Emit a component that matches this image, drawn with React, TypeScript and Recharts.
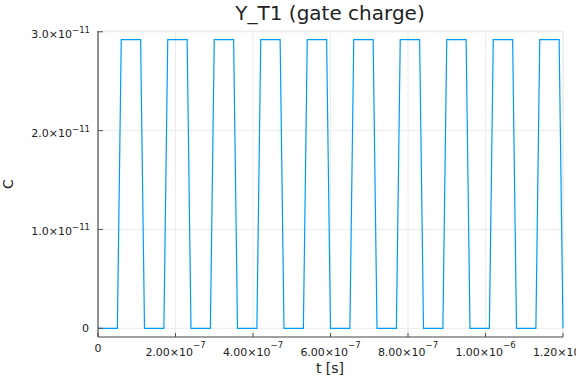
import { CartesianGrid, Line, LineChart, XAxis, YAxis } from "recharts";

const TITLE = "Y_T1 (gate charge)";
const X_LABEL = "t [s]";
const Y_LABEL = "C";

// breakpoints of the gate charge waveform, time in ns
const T_NS = [
  0, 50, 60, 110, 120, 170, 180, 230, 240, 290, 300, 350, 360, 410, 420, 470, 480,
  530, 540, 590, 600, 650, 660, 710, 720, 770, 780, 830, 840, 890, 900, 950, 960,
  1010, 1020, 1070, 1080, 1130, 1140, 1190, 1200,
];
const H = 2.92e-11;
const CHARGE = [
  0, 0, H, H, 0, 0, H, H, 0, 0, H, H, 0, 0, H, H, 0,
  0, H, H, 0, 0, H, H, 0, 0, H, H, 0, 0, H, H, 0,
  0, H, H, 0, 0, H, H, 0,
];

const X_TICKS = [0, 2e-7, 4e-7, 6e-7, 8e-7, 1e-6, 1.2e-6];
const X_TICK_LABELS = [
  ["0", ""],
  ["2.00×10", "−7"],
  ["4.00×10", "−7"],
  ["6.00×10", "−7"],
  ["8.00×10", "−7"],
  ["1.00×10", "−6"],
  ["1.20×10", "−6"],
];
const Y_TICKS = [0, 1e-11, 2e-11, 3e-11];
const Y_TICK_LABELS = [
  ["0", ""],
  ["1.0×10", "−11"],
  ["2.0×10", "−11"],
  ["3.0×10", "−11"],
];

const data = T_NS.map((t, i) => ({ t: t * 1e-9, q: CHARGE[i] }));

const FONT = "DejaVu Sans, sans-serif";
const AXIS = "#4d4d4d";
const TEXT = "#222";

function XTick({ x, y, index }: any) {
  const [main, sup] = X_TICK_LABELS[index] ?? ["", ""];
  return (
    <g>
      <line x1={x} y1={y} x2={x} y2={y - 4} stroke={AXIS} strokeWidth={1} />
      {sup ? (
        <text x={x} y={y + 19} textAnchor="middle" fontSize={11} fill={TEXT} fontFamily={FONT}>
          {main}
          <tspan dy={-8} fontSize={8.5}>
            {sup}
          </tspan>
        </text>
      ) : (
        <text x={x} y={y + 15} textAnchor="middle" fontSize={11} fill={TEXT} fontFamily={FONT}>
          {main}
        </text>
      )}
    </g>
  );
}

function YTick({ x, y, index }: any) {
  const [main, sup] = Y_TICK_LABELS[index] ?? ["", ""];
  return (
    <g>
      <line x1={x} y1={y} x2={x + 5} y2={y} stroke={AXIS} strokeWidth={1} />
      {sup ? (
        <text x={x - 8} y={y + 6} textAnchor="end" fontSize={11} fill={TEXT} fontFamily={FONT}>
          {main}
          <tspan dy={-5} fontSize={8.5}>
            {sup}
          </tspan>
        </text>
      ) : (
        <text x={x - 9} y={y + 4} textAnchor="end" fontSize={11} fill={TEXT} fontFamily={FONT}>
          {main}
        </text>
      )}
    </g>
  );
}

export default function App() {
  return (
    <div style={{ position: "absolute", left: 0, top: 0, width: 576, height: 384, background: "#fff" }}>
      <LineChart width={576} height={384} data={data} margin={{ top: 31, right: 13, bottom: 7, left: 8 }}>
        <CartesianGrid stroke="#ececec" strokeWidth={1} />
        <XAxis
          dataKey="t"
          type="number"
          domain={[0, 1.2e-6]}
          ticks={X_TICKS}
          height={40}
          tickSize={0}
          tickMargin={0}
          tick={<XTick />}
          axisLine={{ stroke: AXIS, strokeWidth: 1.2 }}
          tickLine={false}
          interval={0}
        />
        <YAxis
          type="number"
          domain={[-8.8e-13, 3.008e-11]}
          ticks={Y_TICKS}
          width={90}
          tickSize={0}
          tickMargin={0}
          tick={<YTick />}
          axisLine={{ stroke: AXIS, strokeWidth: 1.2 }}
          tickLine={false}
          interval={0}
          allowDataOverflow
        />
        <Line
          type="linear"
          dataKey="q"
          stroke="#009AFA"
          strokeWidth={1.2}
          dot={false}
          isAnimationActive={false}
        />
        <text x={330} y={19.5} textAnchor="middle" fontSize={20} fill={TEXT} fontFamily={FONT}>
          {TITLE}
        </text>
        <text x={330} y={373} textAnchor="middle" fontSize={14} fill={TEXT} fontFamily={FONT}>
          {X_LABEL}
        </text>
        <text
          x={13}
          y={184}
          textAnchor="middle"
          fontSize={14}
          fill={TEXT}
          fontFamily={FONT}
          transform="rotate(-90 13 184)"
        >
          {Y_LABEL}
        </text>
      </LineChart>
    </div>
  );
}
